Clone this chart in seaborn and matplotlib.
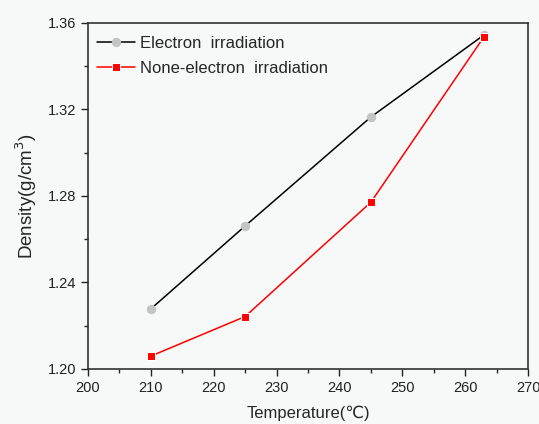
import matplotlib
matplotlib.use('Agg')
import matplotlib.pyplot as plt
import pandas as pd
import seaborn as sns
from matplotlib.ticker import MultipleLocator

# %%
temperature = [210, 225, 245, 263]
electron = [1.2277, 1.2661, 1.3165, 1.3545]
none_electron = [1.2059, 1.2242, 1.2771, 1.3537]

df = pd.DataFrame({
    'Temperature': temperature * 2,
    'Density': electron + none_electron,
    'series': ['Electron  irradiation'] * 4 + ['None-electron  irradiation'] * 4,
})

# %%
sns.set_style('ticks')
plt.rcParams['font.family'] = ['Liberation Sans', 'DejaVu Sans']

fig = plt.figure(figsize=(5.39, 4.24), dpi=100)
fig.patch.set_facecolor('#f7f8f8')
ax = fig.add_axes([0.163, 0.13, 0.817, 0.816])
ax.set_facecolor('#f7f8f8')

sns.lineplot(data=df, x='Temperature', y='Density', hue='series', style='series',
             palette=['black', '#ff0000'], markers=['o', 's'], dashes=False,
             markersize=6, linewidth=1.1, ax=ax)

# recolor the gray circle markers
line = ax.get_lines()[0]
line.set_markerfacecolor('#c4c4c4')
line.set_markeredgecolor('#c4c4c4')

ax.set_xlim(200, 270)
ax.set_ylim(1.20, 1.36)
ax.xaxis.set_major_locator(MultipleLocator(10))
ax.xaxis.set_minor_locator(MultipleLocator(5))
ax.yaxis.set_major_locator(MultipleLocator(0.04))
ax.yaxis.set_minor_locator(MultipleLocator(0.02))
ax.yaxis.set_major_formatter(plt.FormatStrFormatter('%.2f'))
ax.tick_params(which='major', direction='out', length=5, width=1, labelsize=10.5, colors='#222222')
ax.tick_params(which='minor', direction='out', length=3, width=1)
for sp in ax.spines.values():
    sp.set_linewidth(1.2)
    sp.set_color('#333333')

ax.set_xlabel('Temperature(\u2103)', fontsize=12, labelpad=8)
ax.set_ylabel('Density(g/cm$^3$)', fontsize=13.5, labelpad=6)

h, l = ax.get_legend_handles_labels()
h[0].set_markerfacecolor('#c4c4c4')
h[0].set_markeredgecolor('#c4c4c4')
ax.legend(h, l, loc='upper left', bbox_to_anchor=(0, 0.988), frameon=False, fontsize=12,
          handlelength=2.3, handletextpad=0.3, borderaxespad=0.15, labelspacing=0.6)

fig.savefig('out.png', dpi=100)
